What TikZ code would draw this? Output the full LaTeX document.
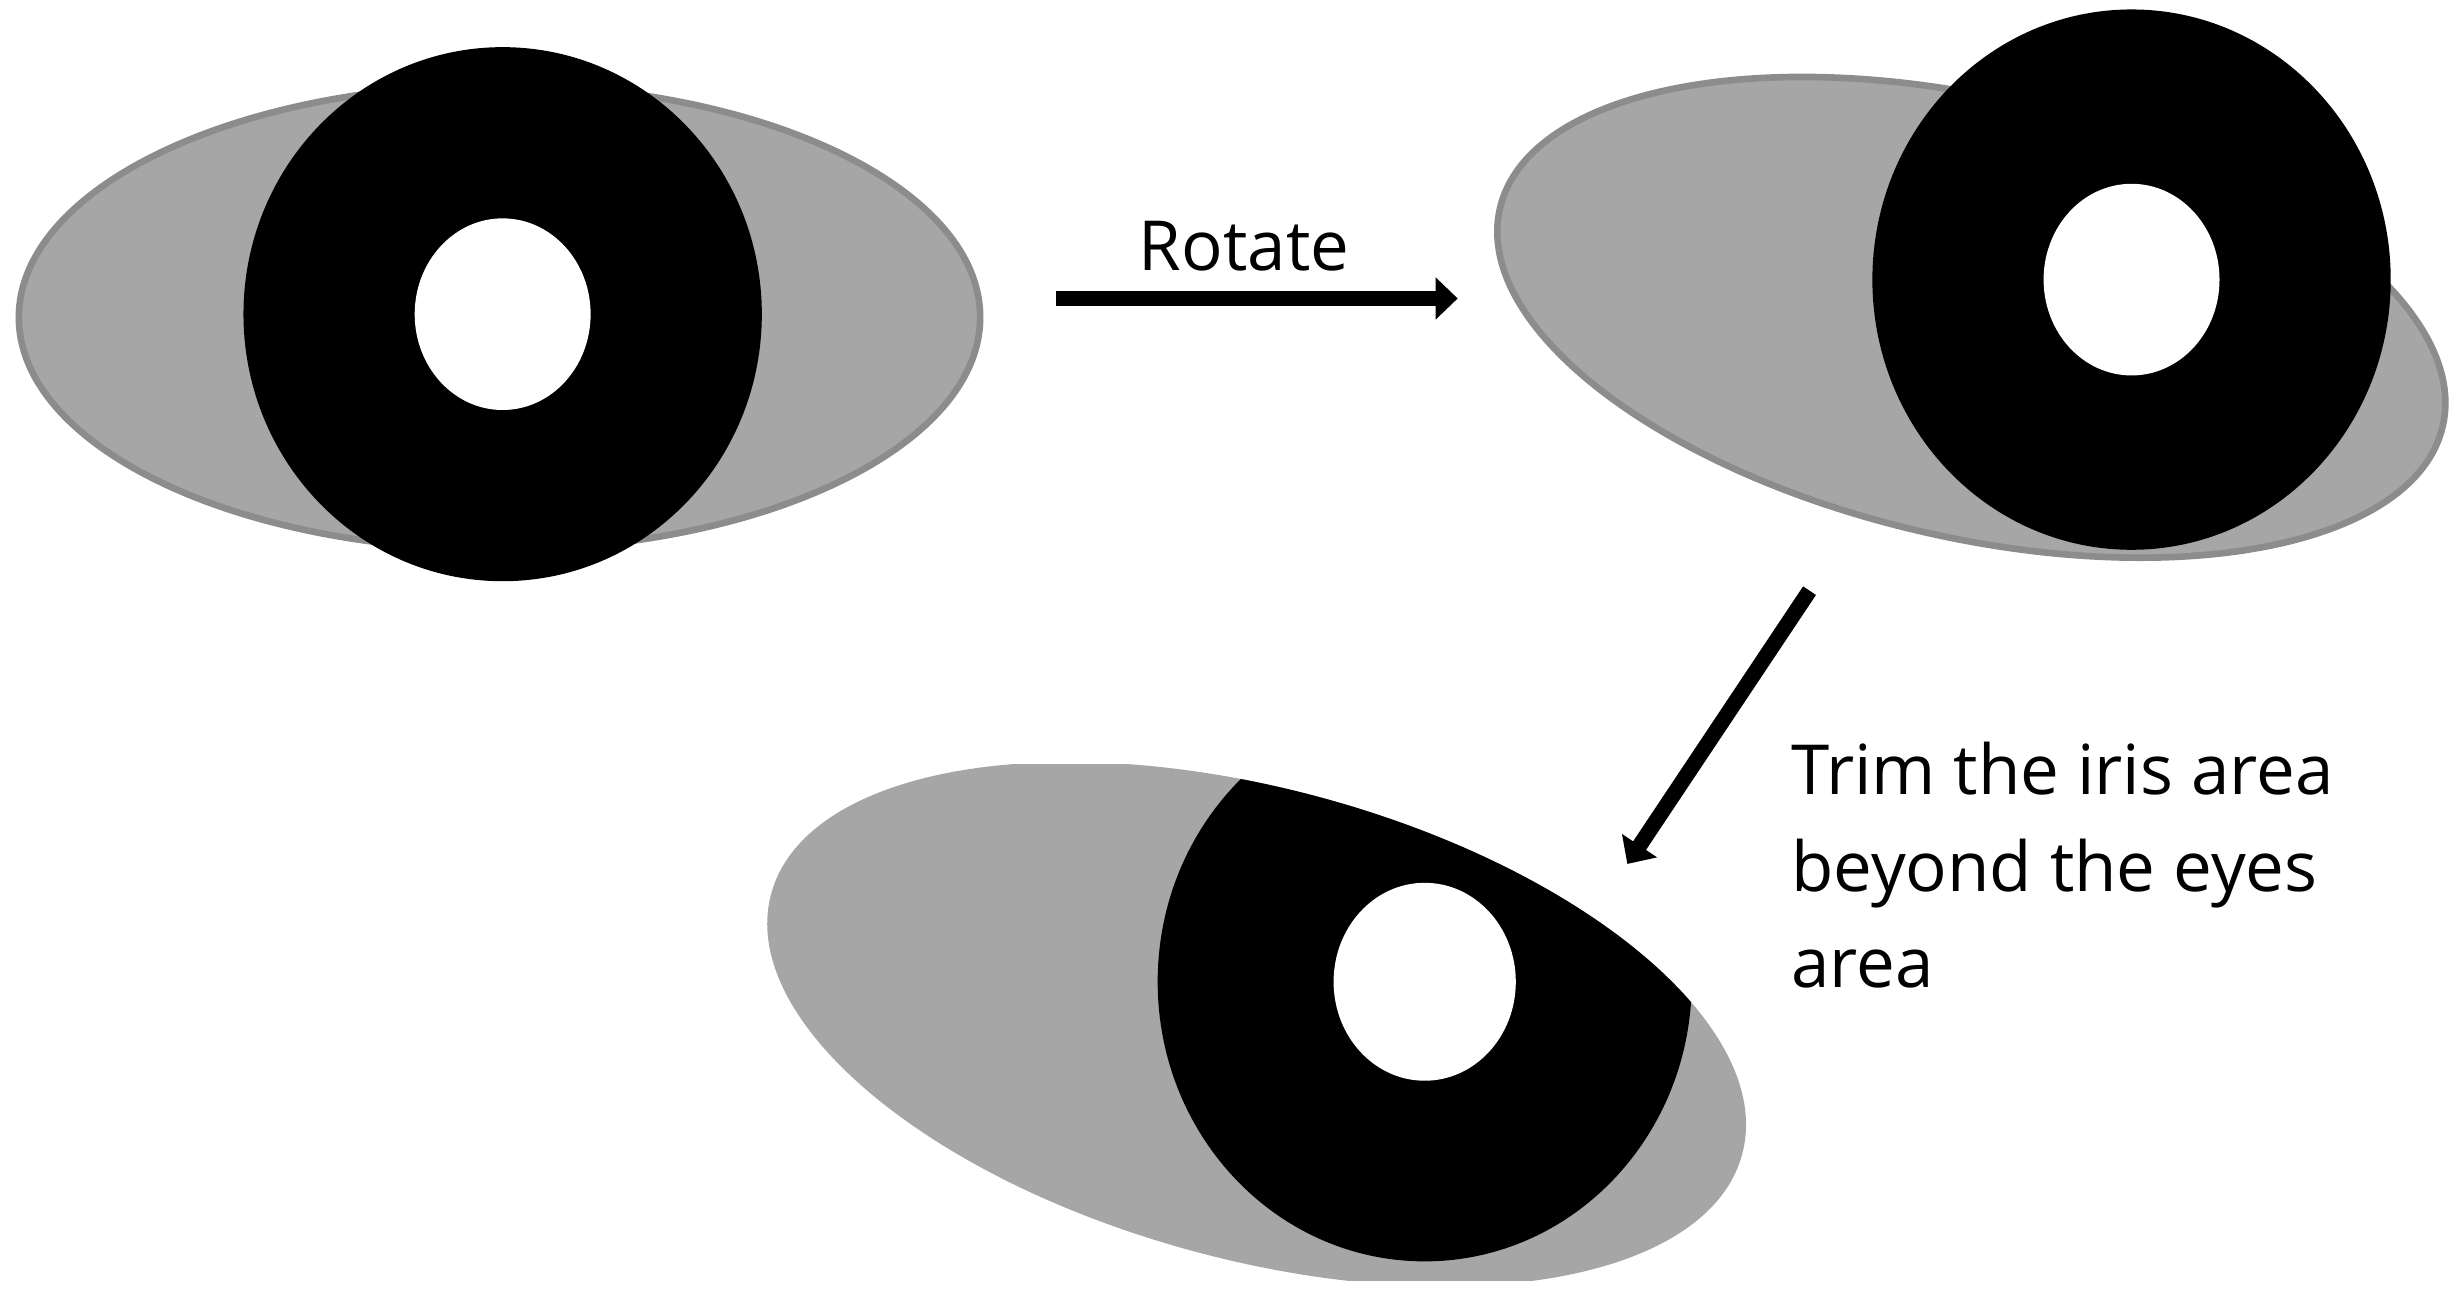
\documentclass[tikz,border=0pt]{standalone}
\usepackage{fontspec}
\setmainfont{Open Sans}
\usetikzlibrary{arrows.meta}
\definecolor{eyegray}{HTML}{A6A6A6}
\definecolor{eyeedge}{HTML}{8C8C8C}
\begin{document}
\begin{tikzpicture}[x=0.01cm,y=-0.01cm,
  eye/.style={fill=eyegray,draw=eyeedge,line width=1.2pt},
  arr/.style={line width=2.8pt,-{Triangle[length=0.14cm,width=0.26cm]}},
  lab/.style={font=\fontsize{12.5}{17.5}\selectfont,align=left}]
\useasboundingbox (0,0) rectangle (1568,826);
% eye 1
\draw[eye] (318,202) ellipse [x radius=306, y radius=148];
\fill[black] (320,200) ellipse [x radius=165, y radius=170];
\fill[white] (320,200) ellipse [x radius=56, y radius=61];
% arrow 1
\coordinate (a1) at (672,190); \coordinate (a2) at (928,190);
\draw[arr] (a1) -- (a2);
\node[lab] (rot) at (792,157) {Rotate};
% eye 2
\draw[eye,rotate around={-13:(1255,202)}] (1255,202) ellipse [x radius=308, y radius=140];
\fill[black] (1357,178) ellipse [x radius=165, y radius=172];
\fill[white] (1357,178) ellipse [x radius=56, y radius=61];
% arrow 2
\coordinate (b1) at (1152,376); \coordinate (b2) at (1036,550);
\draw[arr] (b1) -- (b2);
\node[lab,anchor=north west] (trim) at (1128,460) {Trim the iris area\\beyond the eyes\\area};
% eye 3
\begin{scope}
\clip (487,487) rectangle (1112,815);
\fill[eyegray,rotate around={-15:(800,652)}] (800,652) ellipse [x radius=320, y radius=150];
\clip[rotate around={-15:(800,652)}] (800,652) ellipse [x radius=320, y radius=150];
\fill[black] (907,625) ellipse [x radius=170, y radius=178];
\end{scope}
\fill[white] (907,625) ellipse [x radius=58, y radius=63];
\end{tikzpicture}
\end{document}
